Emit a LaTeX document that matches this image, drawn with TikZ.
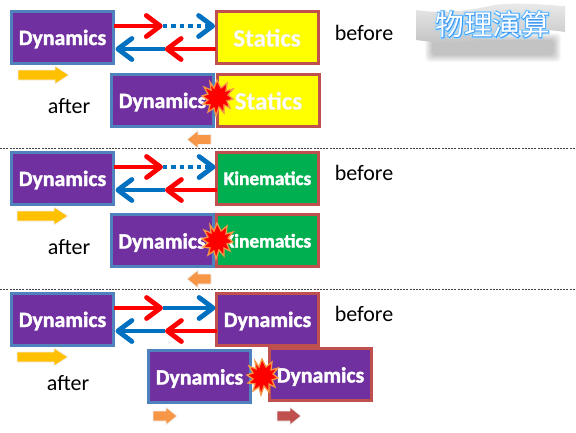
\documentclass[tikz,border=0pt]{standalone}
\usepackage{fontspec}
\setmainfont{Carlito}
\newfontfamily\cjkfont{Noto Sans CJK TC}
\usetikzlibrary{arrows.meta,calc}
\definecolor{purp}{HTML}{7030A0}
\definecolor{bluee}{HTML}{4F81BD}
\definecolor{rede}{HTML}{C0504D}
\definecolor{yel}{HTML}{FFFF00}
\definecolor{grn}{HTML}{00B050}
\definecolor{gold}{HTML}{FFC000}
\definecolor{orng}{HTML}{F79646}
\definecolor{arrb}{HTML}{0070C0}
\newcommand{\softtext}[3]{\special{pdf:code q 2 Tr #1 w #2 RG}#3\special{pdf:code Q}}
\newcommand{\wt}[1]{\softtext{0.35}{1 1 1}{#1}}
\newcommand{\yt}[1]{\softtext{0.6}{0.93 0.93 0.72}{#1}}
\tikzset{
 x=1pt,y=-1pt,
 lbl/.style={minimum width=102pt,minimum height=52pt,inner sep=0pt,outer sep=0pt,line width=3pt,text=white,text height=17pt,text depth=1pt,font=\fontsize{21.8}{24}\selectfont\bfseries},
 dynbox/.style={lbl,draw=bluee,fill=purp},
 dynrbox/.style={lbl,draw=rede,fill=purp},
 statbox/.style={lbl,draw=rede,fill=yel,text height=19pt,text depth=0pt,font=\fontsize{25}{27}\selectfont\bfseries},
 kinbox/.style={lbl,draw=rede,fill=grn,text height=15pt,text depth=1pt,font=\fontsize{19.3}{22}\selectfont\bfseries},
 note/.style={text=black,font=\fontsize{22}{24}\selectfont,inner sep=0pt},
 barbtip/.style={-{Straight Barb[length=14pt,width=21pt,line width=4.8pt,round]}},
 redarr/.style={draw=red,line width=4.8pt,barbtip},
 bluarr/.style={draw=arrb,line width=4.8pt,barbtip},
 bludot/.style={bluarr,dash pattern=on 4.5pt off 4pt},
 blockarr/.style={draw=black!6,line width=.8pt,line join=round},
 burst/.style={fill=red,draw=orng,line width=1.3pt,line join=miter},
 divider/.style={draw=black!75,line width=.6pt,dash pattern=on 2pt off 1.2pt},
}
\newcommand{\blockR}[3]{\fill[#3,blockarr] ($(#1,#2)+(0,-5)$) -- ++(37,0) -- ++(0,-4) -- ++(14,9) -- ++(-14,9) -- ++(0,-4) -- ++(-37,0) -- cycle;}
\newcommand{\smallR}[3]{\fill[#3,blockarr] ($(#1,#2)+(0,-5)$) -- ++(13,0) -- ++(0,-4) -- ++(11,9) -- ++(-11,9) -- ++(0,-4) -- ++(-13,0) -- cycle;}
\newcommand{\smallL}[3]{\fill[#3,blockarr] ($(#1,#2)+(0,-5)$) -- ++(-13,0) -- ++(0,-4) -- ++(-11,9) -- ++(11,9) -- ++(0,-4) -- ++(13,0) -- cycle;}
\newcommand{\burstat}[3]{\coordinate (#1) at (#2,#3);
 \draw[burst,shift={(#1)}] (-1,-18) -- (3,-10) -- (9,-15) -- (8,-7) -- (15,-9) -- (10,-3) -- (15,1) -- (9,3) -- (12,10) -- (6,7) -- (6,15) -- (1,9) -- (-2,18) -- (-4,10) -- (-10,14) -- (-8,7) -- (-15,6) -- (-10,2) -- (-16,-2) -- (-10,-4) -- (-14,-11) -- (-7,-8) -- (-8,-16) -- (-4,-10) -- cycle;}
\newcommand{\links}[4]{%
 \coordinate (#1u) at ($(#2.east)+(0,-11)$);
 \coordinate (#1m) at ($(#2.east)!.48!(#3.west)+(0,-11)$);
 \coordinate (#1v) at ($(#3.west)+(-1,-11)$);
 \coordinate (#1p) at ($(#3.west)+(0,12)$);
 \coordinate (#1q) at ($(#2.east)!.50!(#3.west)+(0,12)$);
 \coordinate (#1r) at ($(#2.east)+(2,12)$);
 \draw[#4] (#1m) -- (#1v);
 \draw[redarr] (#1u) -- (#1m);
 \draw[bluarr] (#1q) -- (#1r);
 \draw[redarr] (#1p) -- (#1q);
}
\begin{document}
\begin{tikzpicture}
\useasboundingbox (0,0) rectangle (576,432);
\fill[white] (0,0) rectangle (576,432);
% banner
\foreach \i in {0,...,7}{
 \fill[black,opacity=.03,rounded corners=4pt] ({432-\i},{40-\i}) rectangle ({554+\i},{55+\i});
}
\shade[top color=black!8,bottom color=black!24,draw=none]
 (416,10) .. controls (440,14) and (470,11) .. (494,5)
 .. controls (520,2) and (545,5) .. (565,6) -- (565,32)
 .. controls (540,28) and (515,29) .. (495,36)
 .. controls (470,45) and (440,43) .. (416,40) -- cycle;
\node[inner sep=0pt,text=white,font=\fontsize{28.5}{30}\selectfont] (title) at (492.5,24.5) {\cjkfont\rlap{\softtext{3.2}{0.62 0.85 1}{物理演算}}\rlap{\softtext{1.4}{0.25 0.6 0.95}{物理演算}}物理演算};

% row 1
\node[dynbox] (a1) at (62.5,37) {\wt{Dynamics}};
\node[statbox] (b1) at (267,37) {\yt{Statics}};
\links{r1}{a1}{b1}{bludot}
\node[note] (bef1) at (364,33) {before};
\blockR{18}{75}{gold}
\node[note] (aft1) at (69,106) {after};
\node[dynbox] (c1) at (162.5,100) {\wt{Dynamics}};
\node[statbox] (d1) at (268.5,100) {\yt{Statics}};
\burstat{s1}{218}{98}
\smallL{211}{139.5}{orng}
\draw[divider] (0,148.5) -- (576,148.5);

% row 2
\node[dynbox] (a2) at (62.5,178) {\wt{Dynamics}};
\node[kinbox] (b2) at (267.5,178) {\wt{Kinematics}};
\links{r2}{a2}{b2}{bludot}
\node[note] (bef2) at (364,173) {before};
\blockR{17}{216}{gold}
\node[note] (aft2) at (69,247) {after};
\node[dynbox] (c2) at (162,240.5) {\wt{Dynamics}};
\node[kinbox] (d2) at (267.5,240.5) {\wt{Kinematics}};
\burstat{s2}{218}{241}
\smallL{211}{279}{orng}
\draw[divider] (0,289.5) -- (576,289.5);

% row 3
\node[dynbox] (a3) at (62.5,319) {\wt{Dynamics}};
\node[dynrbox] (b3) at (267.5,319) {\wt{Dynamics}};
\links{r3}{a3}{b3}{bluarr}
\node[note] (bef3) at (364,314) {before};
\blockR{17}{357}{gold}
\node[note] (aft3) at (68,383) {after};
\node[dynbox] (c3) at (199.5,376.5) {\wt{Dynamics}};
\node[dynrbox] (d3) at (320.5,374.5) {\wt{Dynamics}};
\burstat{s3}{263}{377}
\smallR{153}{416}{orng}
\smallR{277}{416}{rede}
\end{tikzpicture}
\end{document}
